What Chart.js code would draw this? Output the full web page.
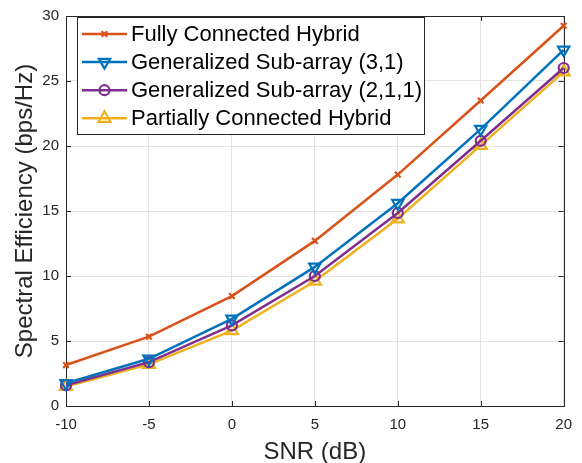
<!DOCTYPE html>
<html><head><meta charset="utf-8">
<script src="https://cdn.jsdelivr.net/npm/chart.js@4"></script>
<style>html,body{margin:0;padding:0;background:#fff}#wrap{width:582px;height:463px}</style>
</head><body><div id="wrap"><canvas id="c" width="582" height="463"></canvas></div>
<script>
const snr = [-10, -5, 0, 5, 10, 15, 20];
const fullyConnected = [3.15, 5.33, 8.45, 12.7, 17.8, 23.5, 29.25];
const genSub31 = [1.75, 3.63, 6.7, 10.7, 15.6, 21.3, 27.4];
const genSub211 = [1.6, 3.37, 6.2, 10.0, 14.85, 20.4, 26.0];
const partiallyConnected = [1.5, 3.2, 5.8, 9.6, 14.4, 20.05, 25.7];
const seriesLabels = ['Fully Connected Hybrid', 'Generalized Sub-array (3,1)', 'Generalized Sub-array (2,1,1)', 'Partially Connected Hybrid'];
const yTicks = [0, 5, 10, 15, 20, 25, 30];
const xTicks = [-10, -5, 0, 5, 10, 15, 20];

const FONT = '"Liberation Sans", Arial, Helvetica, sans-serif';
const TXT = '#262626';
const colors = ['#D95319', '#0072BD', '#7E2F8E', '#EDB120'];
const styles = [
  {pointStyle: 'crossRot', radius: 4, rotation: 0},
  {pointStyle: 'triangle', radius: 6.5, rotation: 180},
  {pointStyle: 'circle', radius: 5, rotation: 0},
  {pointStyle: 'triangle', radius: 7, rotation: 0}
];
const seriesData = [fullyConnected, genSub31, genSub211, partiallyConnected];

const datasets = seriesData.map((arr, i) => ({
  label: seriesLabels[i],
  data: arr.map((v, j) => ({x: snr[j], y: v})),
  borderColor: colors[i],
  backgroundColor: 'rgba(0,0,0,0)',
  borderWidth: 2.5,
  pointStyle: styles[i].pointStyle,
  pointRadius: styles[i].radius,
  pointRotation: styles[i].rotation,
  pointBorderWidth: 2.2,
  pointBorderColor: colors[i],
  pointBackgroundColor: 'rgba(0,0,0,0)',
  tension: 0,
  clip: false
}));

const framePlugin = {
  id: 'frame',
  beforeDatasetsDraw(chart) {
    const {ctx, chartArea: a, scales} = chart;
    ctx.save();
    ctx.strokeStyle = TXT;
    ctx.lineWidth = 1;
    ctx.beginPath();
    const tl = 5;
    xTicks.forEach(v => {
      const x = Math.round(scales.x.getPixelForValue(v)) + 0.5;
      ctx.moveTo(x, a.bottom); ctx.lineTo(x, a.bottom - tl);
      ctx.moveTo(x, a.top); ctx.lineTo(x, a.top + tl);
    });
    yTicks.forEach(v => {
      const y = Math.round(scales.y.getPixelForValue(v)) + 0.5;
      ctx.moveTo(a.left, y); ctx.lineTo(a.left + tl, y);
      ctx.moveTo(a.right, y); ctx.lineTo(a.right - tl, y);
    });
    ctx.stroke();
    ctx.strokeRect(Math.round(a.left) + 0.5, Math.round(a.top) + 0.5, Math.round(a.right - a.left), Math.round(a.bottom - a.top));
    ctx.restore();
  },
  afterDraw(chart) {
    const {ctx} = chart;
    const bx = 77.5, by = 17.5, bw = 347, bh = 117;
    ctx.save();
    ctx.fillStyle = '#fff';
    ctx.fillRect(bx, by, bw, bh);
    ctx.strokeStyle = TXT;
    ctx.lineWidth = 1;
    ctx.strokeRect(bx, by, bw, bh);
    ctx.font = '22px ' + FONT;
    ctx.textBaseline = 'middle';
    chart.data.datasets.forEach((ds, i) => {
      const y = 34 + i * 28.1;
      ctx.strokeStyle = ds.borderColor;
      ctx.lineWidth = 2.5;
      ctx.beginPath(); ctx.moveTo(82, y); ctx.lineTo(127, y); ctx.stroke();
      ctx.lineWidth = 2.2;
      ctx.fillStyle = 'rgba(0,0,0,0)';
      Chart.helpers.drawPoint(ctx, {pointStyle: ds.pointStyle, radius: ds.pointRadius, rotation: ds.pointRotation, borderWidth: 2.2}, 104.5, y);
      ctx.fillStyle = '#000';
      ctx.fillText(ds.label, 131, y + 1);
    });
    ctx.restore();
  }
};

new Chart(document.getElementById('c'), {
  type: 'line',
  data: {datasets},
  plugins: [framePlugin],
  options: {
    responsive: false,
    animation: false,
    devicePixelRatio: 1,
    layout: {padding: {left: 0, right: 11, top: 13, bottom: 0}},
    plugins: {legend: {display: false}, tooltip: {enabled: false}},
    scales: {
      x: {
        type: 'linear', min: -10, max: 20,
        afterBuildTicks: s => { s.ticks = xTicks.map(v => ({value: v})); },
        afterFit: s => { s.height = 57; },
        grid: {color: '#e3e3e3', lineWidth: 1, drawTicks: false},
        border: {display: false},
        ticks: {color: TXT, font: {family: FONT, size: 15}, padding: 10, maxRotation: 0},
        title: {display: true, text: 'SNR (dB)', color: TXT, font: {family: FONT, size: 24}, padding: {top: 0, bottom: -4}}
      },
      y: {
        type: 'linear', min: 0, max: 30,
        afterBuildTicks: s => { s.ticks = yTicks.map(v => ({value: v})); },
        afterFit: s => { s.width = 66; },
        grid: {color: '#e3e3e3', lineWidth: 1, drawTicks: false},
        border: {display: false},
        ticks: {color: TXT, font: {family: FONT, size: 15}, padding: 7},
        title: {display: true, text: 'Spectral Efficiency (bps/Hz)', color: TXT, font: {family: FONT, size: 24}, padding: {top: 10.5, bottom: 10.5}}
      }
    }
  }
});
</script></body></html>
